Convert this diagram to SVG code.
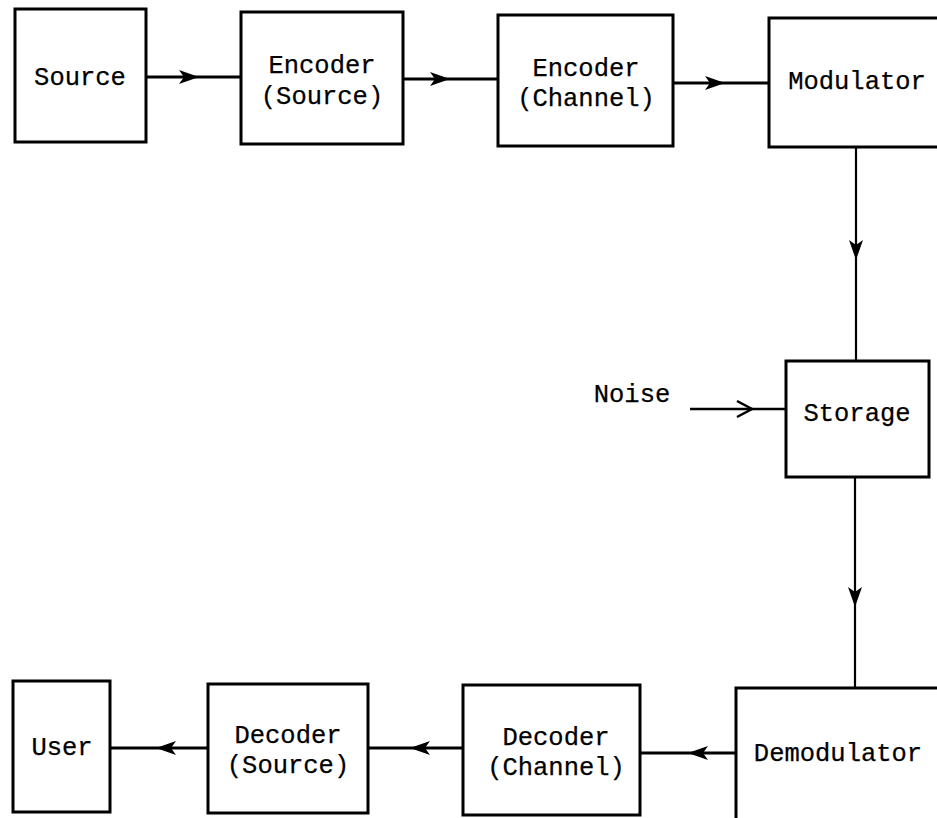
<svg xmlns="http://www.w3.org/2000/svg" width="937" height="818" viewBox="0 0 937 818">
<style>
.box{fill:none;stroke:#000;stroke-width:3}
.t{font-family:"Liberation Mono","Courier New",monospace;font-size:25.5px;fill:#000;stroke:#000;stroke-width:0.25;text-anchor:middle}
.c{fill:none;stroke:#000;stroke-width:3;marker-mid:url(#ah)}
.v{fill:none;stroke:#000;stroke-width:2.2;marker-mid:url(#ah)}
</style>
<defs>
<marker id="ah" markerUnits="userSpaceOnUse" markerWidth="24" markerHeight="16" viewBox="0 -8 22 16" refX="20" refY="0" orient="auto">
<path d="M0,-7 L20,0 L0,7 L5,0 z" fill="#000"/>
</marker>
</defs>
<rect width="937" height="818" fill="#fff"/>
<g id="source"><rect class="box" x="15" y="9" width="131" height="133"/><text class="t" x="80" y="85">Source</text></g>
<g id="encoder-source"><rect class="box" x="241" y="12" width="162" height="132"/><text class="t" x="322" y="73">Encoder</text><text class="t" x="322" y="104">(Source)</text></g>
<g id="encoder-channel"><rect class="box" x="498" y="15" width="175" height="131"/><text class="t" x="586" y="76">Encoder</text><text class="t" x="586" y="106">(Channel)</text></g>
<g id="modulator"><rect class="box" x="769" y="18" width="180" height="129"/><text class="t" x="857" y="89">Modulator</text></g>
<g id="noise"><text class="t" x="632" y="402">Noise</text></g>
<g id="storage"><rect class="box" x="786" y="361" width="143" height="116"/><text class="t" x="857" y="421">Storage</text></g>
<g id="demodulator"><rect class="box" x="736" y="688" width="215" height="140"/><text class="t" x="838" y="761">Demodulator</text></g>
<g id="decoder-channel"><rect class="box" x="463" y="685" width="177" height="130"/><text class="t" x="556" y="745">Decoder</text><text class="t" x="556" y="775">(Channel)</text></g>
<g id="decoder-source"><rect class="box" x="208" y="684" width="160" height="129"/><text class="t" x="288" y="743">Decoder</text><text class="t" x="288" y="773">(Source)</text></g>
<g id="user"><rect class="box" x="13" y="681" width="97" height="131"/><text class="t" x="62" y="755">User</text></g>
<g id="connectors">
<path class="c" d="M146,77 L199,77 L241,77"/>
<path class="c" d="M403,79 L450,79 L498,79"/>
<path class="c" d="M673,83 L725,83 L769,83"/>
<path class="v" d="M856,147 L856,260 L856,361"/>
<path class="v" d="M855,477 L855,607 L855,688"/>
<path class="c" d="M736,753 L688,753 L640,753"/>
<path class="c" d="M463,748 L410,748 L368,748"/>
<path class="c" d="M208,748 L156,748 L110,748"/>
<path d="M690,409 L786,409" fill="none" stroke="#000" stroke-width="2.5"/>
<path d="M737,401 L752,409 L737,417" fill="none" stroke="#000" stroke-width="2.5"/>
</g>
</svg>
